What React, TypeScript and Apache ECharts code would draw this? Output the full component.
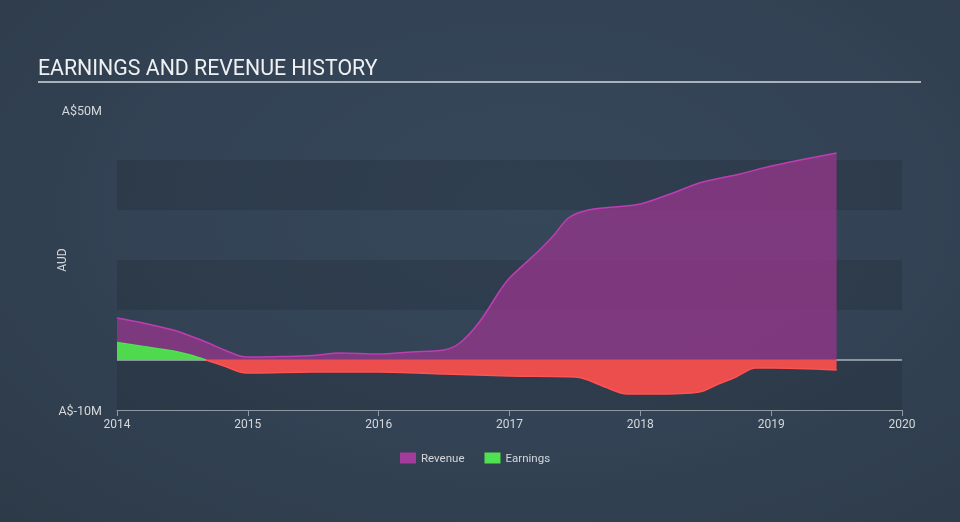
import React, { useEffect, useRef } from "react";
import * as echarts from "echarts";

const titleText = "EARNINGS AND REVENUE HISTORY";
const yTickLabels: Record<number, string> = { 50: "A$50M", [-10]: "A$-10M" };

const revenueYears = [2014.0, 2014.2, 2014.43, 2014.52, 2014.68, 2014.82, 2014.94, 2015.0, 2015.25, 2015.5, 2015.7, 2016.0, 2016.25, 2016.5, 2016.62, 2016.77, 2016.93, 2017.0, 2017.23, 2017.34, 2017.45, 2017.6, 2017.8, 2018.0, 2018.25, 2018.45, 2018.76, 2019.0, 2019.22, 2019.5];
const revenueValues = [8.4, 7.4, 6.0, 5.2, 3.6, 2.0, 0.8, 0.6, 0.7, 0.9, 1.4, 1.2, 1.6, 2.0, 3.4, 7.6, 14.0, 16.4, 22.0, 25.0, 28.4, 30.0, 30.6, 31.2, 33.4, 35.4, 37.2, 38.8, 40.0, 41.4];

const earningsYears = [2014.0, 2014.2, 2014.43, 2014.56, 2014.68, 2014.82, 2014.94, 2015.0, 2015.5, 2016.0, 2016.5, 2017.0, 2017.5, 2017.6, 2017.73, 2017.9, 2018.1, 2018.45, 2018.58, 2018.73, 2018.88, 2019.0, 2019.5];
const earningsValues = [3.5, 2.7, 1.8, 1.0, 0.0, -1.2, -2.4, -2.6, -2.4, -2.4, -2.8, -3.2, -3.4, -4.0, -5.4, -6.8, -6.8, -6.4, -5.0, -3.4, -1.6, -1.6, -2.0];

const xTicks = [2014, 2015, 2016, 2017, 2018, 2019, 2020];

export default function App() {
  const ref = useRef<HTMLDivElement>(null);
  useEffect(() => {
    if (!ref.current) return;
    const chart = echarts.init(ref.current, undefined, { renderer: "svg" });
    const font = "Roboto";
    const earningsPts = earningsYears.map((x, i) => [x, earningsValues[i]]);
    const crossIdx = earningsValues.findIndex((v) => v <= 0);
    const positivePts = earningsPts.slice(0, crossIdx + 1);
    const negativePts = earningsPts.slice(crossIdx);
    chart.setOption({
      animation: false,
      backgroundColor: "transparent",
      textStyle: { fontFamily: font },
      title: {
        text: titleText,
        left: 33,
        top: 52,
        textStyle: { color: "#eef0f2", fontSize: 21.3, fontWeight: "normal", fontFamily: font },
      },
      graphic: [
        {
          type: "line",
          shape: { x1: 38, y1: 82, x2: 921, y2: 82 },
          style: { stroke: "#aab1b8", lineWidth: 2 },
        },
      ],
      legend: {
        left: 395,
        top: 447,
        itemWidth: 16,
        itemHeight: 11,
        itemGap: 20,
        icon: "rect",
        textStyle: { color: "#d4d7da", fontSize: 11.5, fontFamily: font },
        data: [
          { name: "Revenue", itemStyle: { color: "#a23b9c" } },
          { name: "Earnings", itemStyle: { color: "#4fe14f" } },
        ],
      },
      grid: { left: 117, right: 58, top: 110, bottom: 112 },
      xAxis: {
        type: "value",
        min: 2014,
        max: 2020,
        interval: 1,
        splitLine: { show: false },
        axisLine: { show: true, onZero: false, lineStyle: { color: "#8d98a3", width: 1 } },
        axisTick: { show: true, length: 6, lineStyle: { color: "#8d98a3" } },
        axisLabel: {
          color: "#d4d7da",
          fontSize: 12,
          margin: 8,
          formatter: (v: number) => (xTicks.includes(v) ? String(v) : ""),
        },
      },
      yAxis: {
        type: "value",
        min: -10,
        max: 50,
        interval: 10,
        name: "AUD",
        nameLocation: "middle",
        nameRotate: 90,
        nameGap: 49,
        nameMoveOverlap: false,
        nameTextStyle: { color: "#d4d7da", fontSize: 12, fontFamily: font },
        axisLine: { show: false },
        axisTick: { show: false },
        splitLine: { show: false },
        splitArea: {
          show: true,
          areaStyle: { color: ["rgba(0,0,0,0.11)", "rgba(0,0,0,0)"] },
        },
        axisLabel: {
          color: "#d4d7da",
          fontSize: 12.5,
          margin: 15,
          showMinLabel: true,
          showMaxLabel: true,
          formatter: (v: number) => yTickLabels[v] ?? "",
        },
      },
      series: [
        {
          name: "zero",
          type: "line",
          data: [[2014, 0], [2020, 0]],
          symbol: "none",
          silent: true,
          z: 1,
          lineStyle: { color: "#e8ecef", width: 1 },
        },
        {
          name: "Revenue",
          type: "line",
          data: revenueYears.map((x, i) => [x, revenueValues[i]]),
          smooth: 0.3,
          symbol: "none",
          z: 2,
          lineStyle: { color: "#bd3db3", width: 1.5 },
          itemStyle: { color: "#a23b9c" },
          areaStyle: { color: "#93378a", opacity: 0.78 },
        },
        {
          name: "Earnings",
          type: "line",
          data: positivePts,
          smooth: 0.3,
          symbol: "none",
          z: 3,
          lineStyle: { width: 1.5, color: "#4fe14f" },
          itemStyle: { color: "#4fe14f" },
          areaStyle: { color: "#4fd94f", opacity: 1 },
        },
        {
          name: "Earnings",
          type: "line",
          data: negativePts,
          smooth: 0.3,
          symbol: "none",
          z: 3,
          lineStyle: { width: 1.5, color: "#ff5252" },
          itemStyle: { color: "#ee4e4e" },
          areaStyle: { color: "#ec4d4d", opacity: 1 },
        },
      ],
    });
    return () => chart.dispose();
  }, []);
  return (
    <div
      style={{
        position: "fixed",
        left: 0,
        top: 0,
        width: 960,
        height: 522,
        background: "radial-gradient(ellipse at 55% 40%, #36475a 0%, #334355 50%, #2d3a48 100%)",
      }}
    >
      <div ref={ref} style={{ width: 960, height: 522 }} />
    </div>
  );
}
